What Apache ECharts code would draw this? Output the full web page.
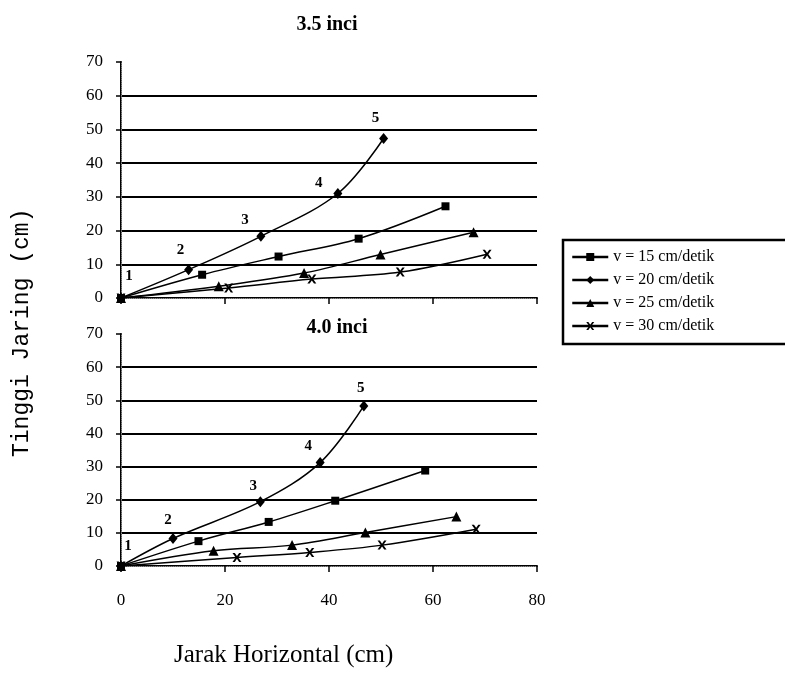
<!DOCTYPE html>
<html>
<head>
<meta charset="utf-8">
<script src="https://cdn.jsdelivr.net/npm/echarts@6/dist/echarts.min.js"></script>
<style>
  html, body { margin: 0; padding: 0; background: #fff; }
  #chart { width: 785px; height: 690px; }
</style>
</head>
<body>
<div id="chart"></div>
<script>
// Net height (cm) against horizontal distance (cm), two mesh sizes, four flow speeds.
const seriesNames = ['v = 15 cm/detik', 'v = 20 cm/detik', 'v = 25 cm/detik', 'v = 30 cm/detik'];
const panelTitles = ['3.5 inci', '4.0 inci'];
const xTicks = [0, 20, 40, 60, 80];
const yTicks = [0, 10, 20, 30, 40, 50, 60, 70];
const pointNumbers = ['1', '2', '3', '4', '5'];

// 3.5 inci
const a15x = [0, 15.6, 30.3, 45.7, 62.4];
const a15y = [0, 6.9, 12.3, 17.6, 27.2];
const a20x = [0, 13.0, 26.9, 41.7, 50.5];
const a20y = [0, 8.4, 18.3, 31.0, 47.3];
const a25x = [0, 18.8, 35.2, 49.9, 67.8];
const a25y = [0, 3.5, 7.4, 12.9, 19.5];
const a30x = [0, 20.7, 36.7, 53.7, 70.4];
const a30y = [0, 3.0, 5.6, 7.7, 13.0];

// 4.0 inci
const b15x = [0, 14.9, 28.4, 41.2, 58.5];
const b15y = [0, 7.5, 13.3, 19.7, 28.8];
const b20x = [0, 10.0, 26.8, 38.3, 46.7];
const b20y = [0, 8.3, 19.4, 31.2, 48.3];
const b25x = [0, 17.8, 32.9, 47.0, 64.5];
const b25y = [0, 4.6, 6.3, 10.1, 14.9];
const b30x = [0, 22.3, 36.3, 50.2, 68.3];
const b30y = [0, 2.6, 4.1, 6.3, 11.1];

// label offsets for the numbered points on the v = 20 curve
const numOffsetsTop = [[8, -4], [-8, -2], [-16, 2], [-19, 8], [-8, -2]];
const numOffsetsBottom = [[7, -2], [-5, 0], [-7, 2], [-12, 2], [-3, 0]];

const serif = 'Liberation Serif';
const pair = (xs, ys) => xs.map((x, i) => [x, ys[i]]);

const crossPath = 'path://M0,0 L2.6,0 L5,3.4 L7.4,0 L10,0 L6.4,5 L10,10 L7.4,10 L5,6.6 L2.6,10 L0,10 L3.6,5 Z';
const symbols = ['rect', 'diamond', 'triangle', crossPath];
const symbolSizes = [8, [9, 11], 10, 9];

function makeSeries(panel, data) {
  return data.map((d, k) => {
    const s = {
      name: seriesNames[k],
      type: 'line',
      xAxisIndex: panel,
      yAxisIndex: panel,
      data: d,
      smooth: 0.35,
      symbol: symbols[k],
      symbolSize: symbolSizes[k],
      showAllSymbol: true,
      lineStyle: { color: '#000', width: 1.5 },
      itemStyle: { color: '#000' },
      z: 5
    };
    if (k === 1) {
      const offs = panel === 0 ? numOffsetsTop : numOffsetsBottom;
      s.data = d.map((p, i) => ({
        value: p,
        label: {
          show: true,
          position: 'top',
          offset: offs[i],
          formatter: pointNumbers[i],
          fontFamily: serif,
          fontWeight: 'bold',
          fontSize: 15,
          color: '#000'
        }
      }));
    }
    return s;
  });
}

const gridBox = [
  { left: 121, top: 62, width: 416, height: 236 },
  { left: 121, top: 334, width: 416, height: 232 }
];

const xAxes = [];
const yAxes = [];
[0, 1].forEach(g => {
  xAxes.push({
    type: 'value', gridIndex: g, min: xTicks[0], max: xTicks[xTicks.length - 1], interval: 20,
    axisLine: { show: true, onZero: false, lineStyle: { color: '#000', width: 2 } },
    axisTick: { show: true, length: 6, lineStyle: { color: '#000', width: 1.5 } },
    axisLabel: { show: g === 1, margin: 26, fontFamily: serif, fontSize: 17, color: '#000' },
    splitLine: { show: false }
  });
  yAxes.push({
    type: 'value', gridIndex: g, min: yTicks[0], max: yTicks[yTicks.length - 1], interval: 10,
    axisLine: { show: true, onZero: false, lineStyle: { color: '#000', width: 2 } },
    axisTick: { show: true, length: 5, lineStyle: { color: '#000', width: 1.5 } },
    axisLabel: { show: true, margin: 18, fontFamily: serif, fontSize: 17, color: '#000' },
    splitLine: { show: true, showMinLine: true, showMaxLine: false, lineStyle: { color: '#000', width: 2 } }
  });
});
// dotted frame along the top and right of each plot
[0, 1].forEach(g => {
  xAxes.push({
    type: 'value', gridIndex: g, position: 'top', min: 0, max: 80,
    axisLine: { show: true, lineStyle: { color: '#888', width: 1, type: 'dotted' } },
    axisTick: { show: false }, axisLabel: { show: false }, splitLine: { show: false }
  });
  yAxes.push({
    type: 'value', gridIndex: g, position: 'right', min: 0, max: 70,
    axisLine: { show: true, lineStyle: { color: '#888', width: 1, type: 'dotted' } },
    axisTick: { show: false }, axisLabel: { show: false }, splitLine: { show: false }
  });
});

const option = {
  backgroundColor: '#fff',
  animation: false,
  title: [
    { text: panelTitles[0], left: 322, top: 10, textAlign: 'center',
      textStyle: { fontFamily: serif, fontWeight: 'bold', fontSize: 20, color: '#000' } },
    { text: panelTitles[1], left: 332, top: 313, textAlign: 'center',
      textStyle: { fontFamily: serif, fontWeight: 'bold', fontSize: 20, color: '#000' } }
  ],
  legend: {
    data: seriesNames,
    orient: 'vertical',
    left: 563, top: 240,
    itemWidth: 36, itemHeight: 10, itemGap: 7,
    padding: [9, 120, 10, 8],
    backgroundColor: '#fff',
    borderColor: '#000', borderWidth: 2.5,
    lineStyle: { width: 2.5 },
    textStyle: { fontFamily: serif, fontSize: 16, color: '#000' }
  },
  grid: gridBox.map(b => Object.assign({ containLabel: false }, b)),
  xAxis: xAxes,
  yAxis: yAxes,
  graphic: [
    { type: 'text', left: 174, top: 643,
      style: { text: 'Jarak Horizontal (cm)', font: '25px "Liberation Serif"', fill: '#000' } },
    { type: 'text', x: 10, y: 457, rotation: Math.PI / 2,
      style: { text: 'Tinggi Jaring (cm)', font: '23px "Liberation Mono"', fill: '#000' } }
  ],
  series: [
    ...makeSeries(0, [pair(a15x, a15y), pair(a20x, a20y), pair(a25x, a25y), pair(a30x, a30y)]),
    ...makeSeries(1, [pair(b15x, b15y), pair(b20x, b20y), pair(b25x, b25y), pair(b30x, b30y)])
  ]
};

echarts.init(document.getElementById('chart'), null, { renderer: 'canvas' }).setOption(option);
</script>
</body>
</html>
